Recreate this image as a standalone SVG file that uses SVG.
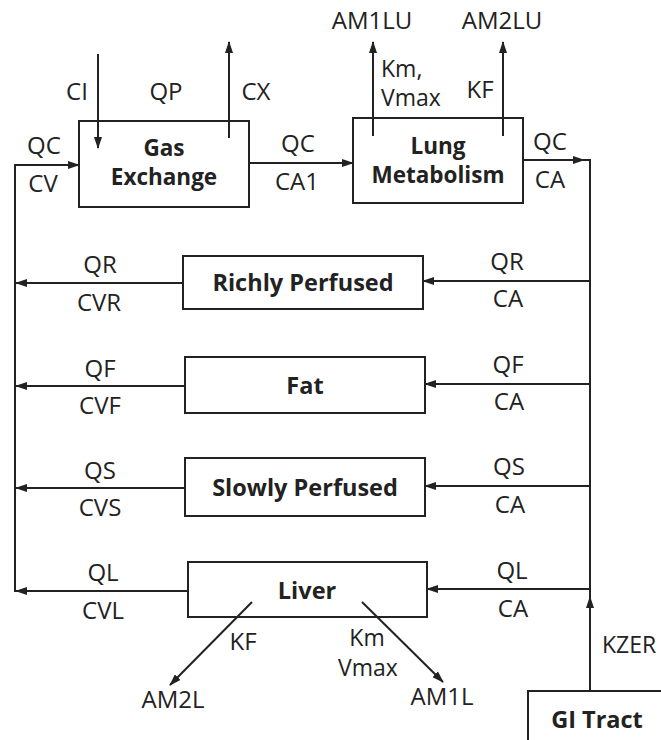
<svg xmlns="http://www.w3.org/2000/svg" width="661" height="740" viewBox="0 0 661 740">
<style>
  .box { fill: none; stroke: #222; stroke-width: 2; }
  .ln { fill: none; stroke: #222; stroke-width: 2; }
  .t { font-family: "Open Sans", "Liberation Sans", sans-serif; font-size: 24px; fill: #222; text-anchor: middle; }
  .ts { font-family: "Open Sans", "Liberation Sans", sans-serif; font-size: 23px; fill: #222; text-anchor: middle; }
  .tl { font-family: "Open Sans", "Liberation Sans", sans-serif; font-size: 23px; fill: #222; }
  .b { font-family: "Open Sans", "Liberation Sans", sans-serif; font-size: 23.5px; font-weight: bold; fill: #222; text-anchor: middle; }
  .b2 { font-family: "Open Sans", "Liberation Sans", sans-serif; font-size: 22.5px; font-weight: bold; fill: #222; text-anchor: middle; }
</style>
<defs>
  <marker id="ah" markerWidth="12" markerHeight="8" refX="11" refY="4" orient="auto" markerUnits="userSpaceOnUse">
    <path d="M0,0 L12,4 L0,8 Z" fill="#222"/>
  </marker>
</defs>
<rect width="661" height="740" fill="#fff"/>

<g id="gas-exchange">
  <rect class="box" x="79" y="121" width="170" height="86"/>
  <text class="b2" x="164" y="156">Gas</text>
  <text class="b2" x="164" y="185">Exchange</text>
</g>
<g id="lung-metabolism">
  <rect class="box" x="353" y="118" width="170" height="85"/>
  <text class="b2" x="438" y="154">Lung</text>
  <text class="b2" x="438" y="183">Metabolism</text>
</g>
<g id="richly-perfused">
  <rect class="box" x="183" y="256" width="240" height="53"/>
  <text class="b" x="303" y="291">Richly Perfused</text>
</g>
<g id="fat">
  <rect class="box" x="185" y="357" width="240" height="56"/>
  <text class="b" x="305" y="394">Fat</text>
</g>
<g id="slowly-perfused">
  <rect class="box" x="185" y="458" width="240" height="58"/>
  <text class="b" x="305" y="496">Slowly Perfused</text>
</g>
<g id="liver">
  <rect class="box" x="188" y="562" width="239" height="55"/>
  <text class="b" x="307" y="599">Liver</text>
</g>
<g id="gi-tract">
  <rect class="box" x="528" y="691" width="150" height="70"/>
  <text class="b" x="597" y="728">GI Tract</text>
</g>

<g id="connectors">
  <line class="ln" x1="98" y1="54" x2="98" y2="148" marker-end="url(#ah)"/>
  <line class="ln" x1="229" y1="138" x2="229" y2="42" marker-end="url(#ah)"/>
  <polyline class="ln" points="15,592 15,165 79,165" marker-end="url(#ah)"/>
  <line class="ln" x1="249" y1="163" x2="353" y2="163" marker-end="url(#ah)"/>
  <line class="ln" x1="373" y1="136" x2="373" y2="42" marker-end="url(#ah)"/>
  <line class="ln" x1="503" y1="136" x2="503" y2="42" marker-end="url(#ah)"/>
  <line class="ln" x1="523" y1="160" x2="584" y2="160" marker-end="url(#ah)"/>
  <polyline class="ln" points="582,160 590,160 590,691"/>
  <line class="ln" x1="590" y1="281" x2="423" y2="281" marker-end="url(#ah)"/>
  <line class="ln" x1="590" y1="384" x2="425" y2="384" marker-end="url(#ah)"/>
  <line class="ln" x1="590" y1="486" x2="425" y2="486" marker-end="url(#ah)"/>
  <line class="ln" x1="590" y1="589" x2="427" y2="589" marker-end="url(#ah)"/>
  <line class="ln" x1="183" y1="283" x2="16" y2="283" marker-end="url(#ah)"/>
  <line class="ln" x1="185" y1="386" x2="16" y2="386" marker-end="url(#ah)"/>
  <line class="ln" x1="185" y1="488" x2="16" y2="488" marker-end="url(#ah)"/>
  <line class="ln" x1="188" y1="591" x2="16" y2="591" marker-end="url(#ah)"/>
  <line class="ln" x1="252" y1="602" x2="170" y2="685" marker-end="url(#ah)"/>
  <line class="ln" x1="362" y1="602" x2="443" y2="682" marker-end="url(#ah)"/>
  <line class="ln" x1="590" y1="691" x2="590" y2="597" marker-end="url(#ah)"/>
</g>

<g id="labels">
  <text class="t" x="77" y="100">CI</text>
  <text class="t" x="166" y="100">QP</text>
  <text class="t" x="256" y="100">CX</text>
  <text class="t" x="44" y="154">QC</text>
  <text class="t" x="43" y="192">CV</text>
  <text class="t" x="298" y="152">QC</text>
  <text class="t" x="297" y="190">CA1</text>
  <text class="t" x="372" y="29">AM1LU</text>
  <text class="t" x="502" y="29">AM2LU</text>
  <text class="tl" x="381" y="77">Km,</text>
  <text class="tl" x="381" y="106">Vmax</text>
  <text class="t" x="480" y="98">KF</text>
  <text class="t" x="550" y="150">QC</text>
  <text class="t" x="550" y="188">CA</text>

  <text class="t" x="100" y="273">QR</text>
  <text class="t" x="99" y="311">CVR</text>
  <text class="t" x="507" y="270">QR</text>
  <text class="t" x="508" y="307">CA</text>

  <text class="t" x="100" y="377">QF</text>
  <text class="t" x="100" y="414">CVF</text>
  <text class="t" x="508" y="373">QF</text>
  <text class="t" x="509" y="410">CA</text>

  <text class="t" x="100" y="479">QS</text>
  <text class="t" x="100" y="516">CVS</text>
  <text class="t" x="509" y="475">QS</text>
  <text class="t" x="510" y="513">CA</text>

  <text class="t" x="103" y="581">QL</text>
  <text class="t" x="103" y="619">CVL</text>
  <text class="t" x="512" y="579">QL</text>
  <text class="t" x="513" y="617">CA</text>

  <text class="t" x="243" y="650">KF</text>
  <text class="t" x="173" y="708">AM2L</text>
  <text class="ts" x="367" y="646">Km</text>
  <text class="ts" x="368" y="676">Vmax</text>
  <text class="t" x="442" y="705">AM1L</text>
  <text class="tl" x="602" y="653">KZER</text>
</g>
</svg>
